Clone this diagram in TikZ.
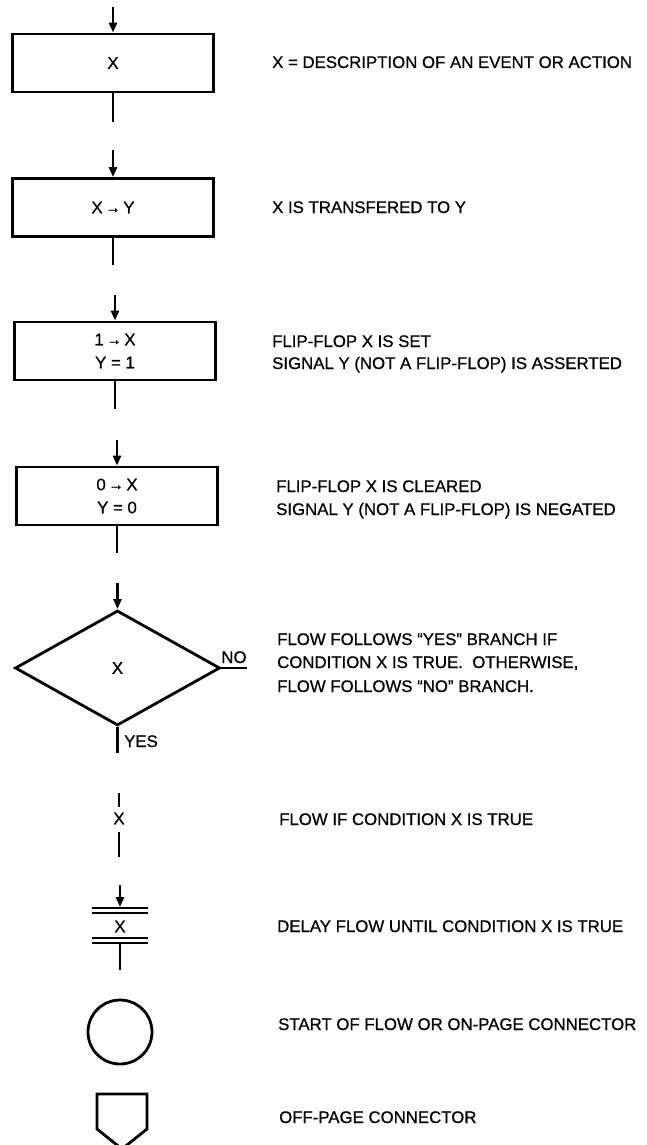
\documentclass[tikz,border=0pt]{standalone}
\usepackage{fontspec}
\setmainfont{Liberation Sans}[FakeBold=0.7]
\usetikzlibrary{arrows.meta,shapes.geometric}
\newcommand\mydescfont{\fontsize{16.8}{20}\selectfont}
\newcommand\myboxfont{\fontsize{16.8}{23}\selectfont}
\newcommand\myarr{{\fontsize{15}{15}\selectfont\raisebox{0.5pt}{→}}}
\begin{document}
\begin{tikzpicture}[x=1pt,y=-1pt,
  lw/.style={line width=2.8pt},
  thinlw/.style={line width=1.8pt},
  procbox/.style={draw,lw,rectangle,minimum width=201pt,minimum height=58pt,inner sep=0pt,font=\myboxfont,align=center},
  inarrow/.style={lw,-{Triangle[length=10pt,width=8pt]}},
  desc/.style={anchor=base west,inner sep=0pt,font=\mydescfont},
  lbl/.style={inner sep=0pt,font=\myboxfont},
]
\useasboundingbox (0,0) rectangle (646,1145);

% --- box 1
\node[procbox] (b1) at (113,63) {X};
\coordinate (b1in) at (113,7);
\coordinate (b1out) at (113,122);
\draw[inarrow] (b1in) -- (b1.north);
\draw[lw] (b1.south) -- (b1out);
\node[desc] (t1) at (272,68) {X = DESCRIPTION OF AN EVENT OR ACTION};

% --- box 2
\node[procbox] (b2) at (113,207.5) {X\,\myarr\,Y};
\coordinate (b2in) at (113,150);
\coordinate (b2out) at (113,265);
\draw[inarrow] (b2in) -- (b2.north);
\draw[lw] (b2.south) -- (b2out);
\node[desc] (t2) at (272,213) {X IS TRANSFERED TO Y};

% --- box 3
\node[procbox] (b3) at (115,351) {1\,\myarr\,X\\Y = 1};
\coordinate (b3in) at (115,295);
\coordinate (b3out) at (115,409);
\draw[inarrow] (b3in) -- (b3.north);
\draw[lw] (b3.south) -- (b3out);
\node[desc] (t3a) at (272,347) {FLIP-FLOP X IS SET};
\node[desc] (t3b) at (272,369) {SIGNAL Y (NOT A FLIP-FLOP) IS ASSERTED};

% --- box 4
\node[procbox] (b4) at (117,496) {0\,\myarr\,X\\Y = 0};
\coordinate (b4in) at (117,440);
\coordinate (b4out) at (117,553);
\draw[inarrow] (b4in) -- (b4.north);
\draw[lw] (b4.south) -- (b4out);
\node[desc] (t4a) at (276,492) {FLIP-FLOP X IS CLEARED};
\node[desc] (t4b) at (276,515) {SIGNAL Y (NOT A FLIP-FLOP) IS NEGATED};

% --- decision
\node[draw,lw,diamond,shape aspect=1.78,minimum width=205pt,minimum height=115pt,inner sep=0pt,font=\myboxfont] (d) at (117.5,668) {X};
\coordinate (din) at (117.5,583);
\coordinate (dno) at (247,668);
\coordinate (dyes) at (117.5,753);
\draw[inarrow] (din) -- (d.north);
\draw[lw] (d.east) -- (dno);
\draw[lw] (d.south) -- (dyes);
\node[lbl,anchor=base] (no) at (234,663) {NO};
\node[lbl,anchor=base west] (yes) at (124,747) {YES};
\node[desc] (t5a) at (277,645) {FLOW FOLLOWS “YES” BRANCH IF};
\node[desc] (t5b) at (277,668) {CONDITION X IS TRUE.\ \ OTHERWISE,};
\node[desc] (t5c) at (277,692) {FLOW FOLLOWS “NO” BRANCH.};

% --- flow if condition
\node[lbl] (fx) at (119,818.5) {X};
\coordinate (fxa) at (119,793);
\coordinate (fxb) at (119,807);
\coordinate (fxc) at (119,832);
\coordinate (fxd) at (119,857);
\draw[lw] (fxa) -- (fxb);
\draw[lw] (fxc) -- (fxd);
\node[desc] (t6) at (279,825) {FLOW IF CONDITION X IS TRUE};

% --- delay
\coordinate (w1l) at (92,908);  \coordinate (w1r) at (148,908);
\coordinate (w2l) at (92,913);  \coordinate (w2r) at (148,913);
\coordinate (w3l) at (92,938);  \coordinate (w3r) at (148,938);
\coordinate (w4l) at (92,943);  \coordinate (w4r) at (148,943);
\draw[thinlw] (w1l) -- (w1r);
\draw[thinlw] (w2l) -- (w2r);
\draw[thinlw] (w3l) -- (w3r);
\draw[thinlw] (w4l) -- (w4r);
\node[lbl] (wx) at (120,926.5) {X};
\coordinate (win) at (120,885);
\coordinate (wtop) at (120,907);
\coordinate (wbot) at (120,943);
\coordinate (wout) at (120,970);
\draw[inarrow] (win) -- (wtop);
\draw[lw] (wbot) -- (wout);
\node[desc] (t7) at (277,932) {DELAY FLOW UNTIL CONDITION X IS TRUE};

% --- start / on-page connector
\node[draw,lw,circle,minimum size=64pt,inner sep=0pt] (start) at (120,1032) {};
\node[desc] (t8) at (278,1030) {START OF FLOW OR ON-PAGE CONNECTOR};

% --- off-page connector
\coordinate (op1) at (97,1094);
\coordinate (op2) at (147,1094);
\coordinate (op3) at (147,1129);
\coordinate (op4) at (122,1149);
\coordinate (op5) at (97,1129);
\draw[lw,line join=miter] (op1) -- (op2) -- (op3) -- (op4) -- (op5) -- cycle;
\node[desc] (t9) at (279,1123) {OFF-PAGE CONNECTOR};
\end{tikzpicture}
\end{document}
